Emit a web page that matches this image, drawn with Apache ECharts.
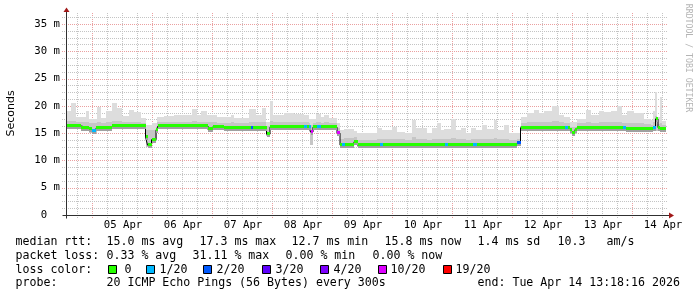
<!DOCTYPE html>
<html><head><meta charset="utf-8">
<script src="https://cdn.jsdelivr.net/npm/echarts@6/dist/echarts.min.js"></script>
<style>html,body{margin:0;padding:0;background:#fff}#c{width:697px;height:297px}</style>
</head><body><div id="c"></div>
<script>
// ---- time axis: hours since 05 Apr 00:00 ----
const startHour = -10.4, endHour = 229.6;
const dayTicks = [0, 24, 48, 72, 96, 120, 144, 168, 192, 216];
const dayLabels = ['05 Apr','06 Apr','07 Apr','08 Apr','09 Apr','10 Apr','11 Apr','12 Apr','13 Apr','14 Apr'];
const yMax = 37;

// ---- median RTT (ms), step segments starting at these hours ----
const medianHours = [-10.4,-4.4,-1.2,0,1.6,8,21.4,22.2,23.8,25.6,26.4,46.4,48.4,52.8,63.6,64.4,69.8,71.2,84.8,85.8,86.8,87.4,88.4,90,91.4,98,99.2,100,101.2,104.8,106.2,115.2,116.4,141.2,142.4,152.4,154,170,171.4,189.2,190.4,191.2,192,193.2,194,204,212.4,213.4,224.4,225.4,226.4,227.2];
const medianValues = [16.3,16.0,15.7,15.4,15.9,16.3,14.3,12.8,13.8,15.5,16.3,15.7,16.2,16.0,16.0,16.0,14.8,16.1,16.1,16.1,16.1,15.2,16.1,16.1,16.1,15.0,12.8,12.8,12.8,13.4,12.8,12.8,12.8,12.8,12.8,12.8,12.8,13.2,16.0,16.0,16.0,15.5,15.1,15.6,16.0,15.9,15.9,15.7,15.9,17.6,16.0,15.8];
const medianLoss = [0,0,0,1,0,0,0,0,0,0,0,0,0,0,2,0,0,0,1,0,1,10,0,1,0,10,0,1,0,0,0,1,0,1,0,1,0,2,0,1,0,0,0,0,0,0,1,0,1,0,0,0];

// ---- smoke (ms): segments starting at these hours ----
const smokeHours = [-10.4,-8.4,-6.4,-2.4,-1.2,2,3.6,5.6,8,10,12,14.8,16.8,19.6,21.6,24,26,28.8,32.8,40,42,43.6,46,50,55.6,56.8,62.8,65.6,68,69.6,71.2,72.4,76.8,80.8,84.8,86.8,87.2,88.4,89.6,91.6,92.8,94.8,98,99.2,100.8,104.8,106,114,116,120,122,125.2,128,129.6,134,136,138,139.6,140.8,143.6,145.6,147.6,149.6,151.6,153.6,156,158,160.8,162,164.8,166.8,170,171.6,174,176.8,178.8,180.8,184,186.8,188.8,191.2,194,197.6,199.6,202.8,204.8,207.6,210,212,214,216.8,220.8,223.6,224.4,225.2,226,227.2,228];
const smokeMax = [19.1,20.6,18.0,19.1,17.6,19.7,17.8,19.0,20.5,19.6,18.2,19.3,18.8,17.8,16.4,16.8,18.0,18.2,18.4,19.4,18.4,19.1,18.4,18.0,18.4,17.8,19.4,18.4,19.6,17.0,20.9,18.3,18.6,18.5,18.3,17.5,17.5,17.5,18.5,17.9,18.3,17.7,16.8,15.5,15.8,15.3,15.0,15.9,15.5,16.2,15.2,15.0,17.4,15.9,15.0,15.9,16.8,15.5,15.7,17.6,15.5,15.9,15.0,15.9,15.5,16.5,15.7,17.4,15.5,16.5,15.0,15.0,17.9,18.6,19.2,18.6,19.1,19.9,18.4,18.0,17.0,17.6,19.2,18.4,19.0,18.8,19.0,19.9,18.4,19.0,18.6,17.6,17.4,19.0,22.6,18.0,21.6,17.2];
const smokeMid = [17.2,17.3,17.0,17.0,16.8,17.0,16.9,17.0,17.3,17.2,17.0,17.1,17.0,16.9,15.5,15.6,17.0,17.0,17.1,17.2,17.0,17.1,17.0,16.9,17.0,16.8,17.1,17.0,17.0,16.3,17.2,17.0,17.0,17.0,17.0,16.8,16.5,16.8,17.0,16.9,17.0,16.8,16.0,14.0,14.1,14.2,13.8,14.0,13.9,14.0,13.9,13.8,14.2,14.0,13.8,13.9,14.0,13.9,13.9,14.1,13.9,13.9,13.8,14.0,13.9,14.0,13.9,14.1,13.9,14.0,13.8,14.0,16.9,17.0,17.1,17.0,17.1,17.2,17.0,16.9,16.2,16.8,17.0,16.9,17.0,17.0,17.0,17.0,16.8,16.9,16.8,16.6,16.5,17.0,18.2,16.6,16.8,16.4];
const smokeMin = [15.9,15.9,15.8,15.7,15.1,15.7,15.7,15.8,15.9,15.9,15.9,15.9,15.9,15.9,12.5,13.5,15.8,15.9,15.9,15.9,15.9,15.9,15.5,15.6,15.6,15.6,15.7,15.7,15.7,14.4,15.7,15.7,15.7,15.7,15.7,15.5,12.9,15.6,15.7,15.7,15.7,15.7,14.6,12.5,12.5,12.8,12.5,12.5,12.5,12.5,12.5,12.5,12.5,12.5,12.5,12.5,12.5,12.5,12.5,12.5,12.5,12.5,12.5,12.5,12.5,12.5,12.5,12.5,12.5,12.5,12.5,12.8,15.7,15.7,15.7,15.7,15.7,15.7,15.7,15.6,14.8,15.6,15.7,15.6,15.6,15.5,15.4,15.4,15.3,15.3,15.3,15.3,15.3,15.3,15.3,15.4,15.4,15.4];

// ---- legend content ----
const lossSteps = [0, 1, 2, 3, 4, 10, 19];
const lossColors = ['#26ff00','#00b8ff','#0059ff','#5e00ff','#7e00ff','#dd00ff','#ff0000'];
const lossLabels = ['0','1/20','2/20','3/20','4/20','10/20','19/20'];
const rttStats = ['15.0 ms avg','17.3 ms max','12.7 ms min','15.8 ms now','1.4 ms sd','10.3','am/s'];
const lossStats = ['0.33 % avg','31.11 % max','0.00 % min','0.00 % now'];
const rowTitles = ['median rtt:','packet loss:','loss color:','probe:'];
const probeText = '20 ICMP Echo Pings (56 Bytes) every 300s';
const endText = 'end: Tue Apr 14 13:18:16 2026';
const yTitle = 'Seconds';
const watermark = 'RRDTOOL / TOBI OETIKER';

// ---- layout ----
const MONO = '"DejaVu Sans Mono", monospace';
const legendFont = '11.6px ' + MONO;
const rowY = [242, 256, 269.5, 283];
const rttX = [106.5,199.5,291.5,384.5,477.5,557.5,606.5];
const lossX = [106.5,192.5,285.5,372.5];
const boxX = [108,146,203,262,320,378,443];
const boxTextX = [124.5,159.5,216.5,275.5,333.5,390.5,455.5];
const MINOR = '#c4c4c4', MAJOR = '#eaa0a0';

function lossColor(l){ let c = lossColors[0]; for (let i=0;i<lossSteps.length;i++) if (l>=lossSteps[i]) c = lossColors[i]; return c; }

const smokeData = smokeHours.map((h,i)=>[h, i+1<smokeHours.length?smokeHours[i+1]:endHour, smokeMin[i], smokeMid[i], smokeMax[i]]);
const medianSegs = medianHours.map((h,i)=>[h, i+1<medianHours.length?medianHours[i+1]:endHour, medianValues[i], medianLoss[i]]);
const medianLine = medianHours.map((h,i)=>[h, medianValues[i]]).concat([[endHour, medianValues[medianValues.length-1]]]);

function renderGrid(params, api){
  const ch = [];
  const top = api.coord([startHour, yMax])[1];
  const bottom = api.coord([startHour, 0])[1];
  const left = api.coord([startHour, 0])[0];
  const right = api.coord([endHour, 0])[0];
  for (let h = -6; h < endHour; h += 6) {
    const x = Math.round(api.coord([h, 0])[0]) + 0.5;
    const major = dayTicks.indexOf(h) >= 0;
    ch.push({type:'line', shape:{x1:x, y1:Math.round(top), x2:x, y2:bottom+3}, style:{stroke: major?MAJOR:MINOR, lineWidth:1, lineDash:[1,1]}});
  }
  for (let k = 1; k * 1.25 < yMax; k++) {
    const v = k * 1.25;
    const y = Math.round(api.coord([startHour, v])[1]) + 0.5;
    const major = (k % 4) === 0;
    ch.push({type:'line', shape:{x1:left-4, y1:y, x2:right+2, y2:y}, style:{stroke: major?MAJOR:MINOR, lineWidth:1, lineDash:[1,1]}});
  }
  return {type:'group', children: ch};
}
function renderSmoke(params, api){
  const x0 = Math.round(api.coord([api.value(0),0])[0]);
  const x1 = Math.round(api.coord([api.value(1),0])[0]);
  const yMin = Math.round(api.coord([0, api.value(2)])[1]);
  const yMid = Math.round(api.coord([0, api.value(3)])[1]);
  const yTop = Math.round(api.coord([0, api.value(4)])[1]);
  return {type:'group', children:[
    {type:'rect', shape:{x:x0, y:yTop, width:x1-x0, height:yMin-yTop}, style:{fill:'#dddddd'}},
    {type:'rect', shape:{x:x0, y:yMid, width:x1-x0, height:yMin-yMid}, style:{fill:'#c6c6c6'}}
  ]};
}
function renderLoss(params, api){
  const x0 = Math.round(api.coord([api.value(0),0])[0]);
  const x1 = Math.round(api.coord([api.value(1),0])[0]);
  const y = Math.round(api.coord([0, api.value(2)])[1]);
  return {type:'group', children:[
    {type:'rect', shape:{x:x0, y:y+1, width:x1-x0, height:2}, style:{fill:'#a0a0a0'}},
    {type:'rect', shape:{x:x0, y:y-2, width:x1-x0, height:3}, style:{fill: lossColor(api.value(3))}}
  ]};
}
function renderAxes(params, api){
  const top = api.coord([startHour, yMax])[1];
  const [left, bottom] = api.coord([startHour, 0]);
  const right = api.coord([endHour, 0])[0];
  const ax = Math.round(left) + 0.5, by = Math.round(bottom) + 0.5;
  const ch = [
    {type:'line', shape:{x1:ax, y1:top-1, x2:ax, y2:by+3}, style:{stroke:'#303030', lineWidth:1}},
    {type:'line', shape:{x1:ax-4, y1:by, x2:right+3, y2:by}, style:{stroke:'#303030', lineWidth:1}},
    {type:'polygon', shape:{points:[[ax-3, top-1],[ax+3, top-1],[ax, top-5.5]]}, style:{fill:'#a01818'}},
    {type:'polygon', shape:{points:[[right+3, by-3],[right+3, by+3],[right+8, by]]}, style:{fill:'#a01818'}}
  ];
  dayTicks.forEach((d,i)=>{
    const x = api.coord([d+12, 0])[0];
    ch.push({type:'text', x:x+1, y:bottom+10, style:{text:dayLabels[i], font:'10.67px '+MONO, fill:'#000', align:'center', verticalAlign:'middle'}});
  });
  return {type:'group', children: ch};
}

const els = [];
function txt(t, x, y, extra){ els.push(Object.assign({type:'text', x:x, y:y, silent:true, style:{text:t, font:legendFont, fill:'#000', align:'left', verticalAlign:'middle'}}, extra||{})); }
rowTitles.forEach((t,i)=>txt(t, 15.5, rowY[i]));
rttStats.forEach((t,i)=>txt(t, rttX[i], rowY[0]));
lossStats.forEach((t,i)=>txt(t, lossX[i], rowY[1]));
lossLabels.forEach((t,i)=>{
  els.push({type:'rect', silent:true, shape:{x:boxX[i]+0.5, y:265.5, width:8, height:8}, style:{fill:lossColors[i], stroke:'#000', lineWidth:1}});
  txt(t, boxTextX[i], rowY[2]);
});
txt(probeText, 106.5, rowY[3]);
txt(endText, 477.5, rowY[3]);
els.push({type:'text', x:11, y:113.5, rotation:Math.PI/2, silent:true, style:{text:yTitle, font:'11px "DejaVu Sans", sans-serif', fill:'#000', align:'center', verticalAlign:'middle'}});
els.push({type:'text', x:688, y:58, rotation:-Math.PI/2, silent:true, style:{text:watermark, font:'8.2px '+MONO, fill:'#b4b4b4', align:'center', verticalAlign:'middle'}});

const chart = echarts.init(document.getElementById('c'), null, {renderer:'canvas'});
chart.setOption({
  animation:false,
  backgroundColor:'#ffffff',
  grid:{left:66, top:13, width:600, height:202, containLabel:false},
  xAxis:{type:'value', min:startHour, max:endHour, show:false},
  yAxis:{type:'value', min:0, max:yMax, interval:5,
    axisLine:{show:false}, axisTick:{show:false}, splitLine:{show:false},
    axisLabel:{showMaxLabel:false, margin:6, color:'#000', fontFamily:'DejaVu Sans Mono', fontSize:10.67,
      formatter:(v)=> v===0 ? '0  ' : v + ' m'}},
  series:[
    {type:'custom', z:1, silent:true, data:[[0,0]], renderItem:renderGrid},
    {type:'custom', z:2, silent:true, data:smokeData, renderItem:renderSmoke, encode:{x:[0,1], y:[2,3,4]}},
    {type:'line', z:3, silent:true, step:'end', data:medianLine, symbol:'none', lineStyle:{color:'#000', width:1}},
    {type:'custom', z:4, silent:true, data:medianSegs, renderItem:renderLoss, encode:{x:[0,1], y:2}},
    {type:'custom', z:5, silent:true, data:[[0,0]], renderItem:renderAxes}
  ],
  graphic:{elements:els}
});
</script></body></html>
